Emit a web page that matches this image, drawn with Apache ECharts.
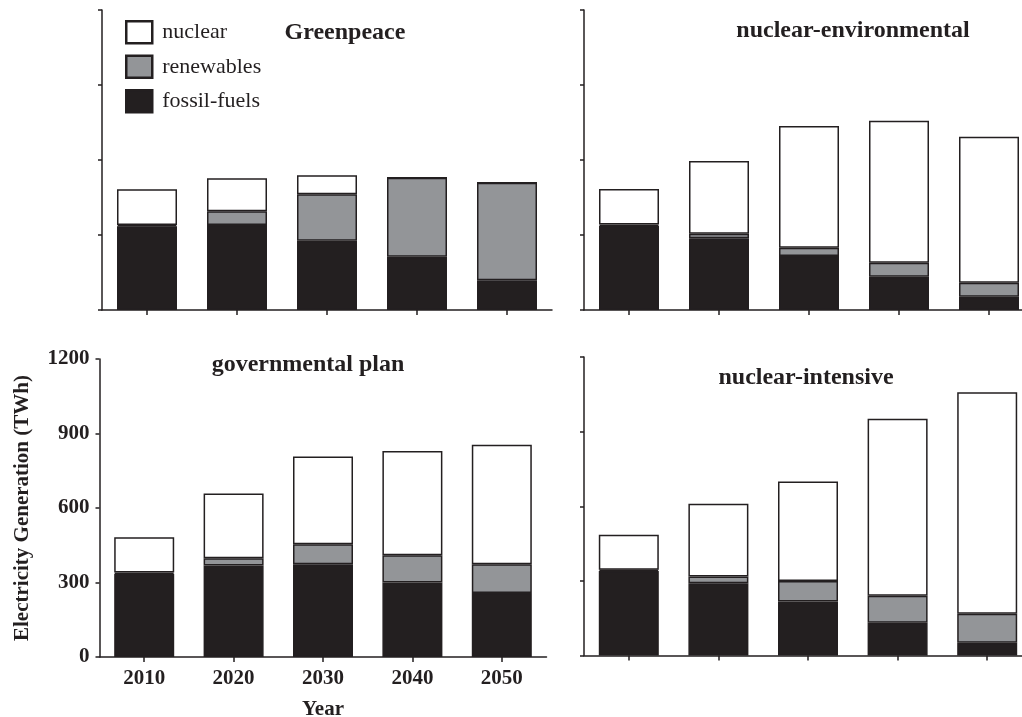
<!DOCTYPE html>
<html>
<head>
<meta charset="utf-8">
<title>Electricity generation scenarios</title>
<script src="https://cdn.jsdelivr.net/npm/echarts@6/dist/echarts.min.js"></script>
<style>
  html, body { margin: 0; padding: 0; background: #ffffff; }
  #chart { width: 1022px; height: 717px; }
</style>
</head>
<body>
<div id="chart"></div>
<script>
// Scenario data, TWh per decade
const years = ['2010', '2020', '2030', '2040', '2050'];
const yTicks = [0, 300, 600, 900, 1200];

const greenpeaceFossil = [335, 340, 277, 213, 119];
const greenpeaceRenew = [5, 55, 186, 316, 390];
const greenpeaceNuclear = [143, 132, 76, 0, 0];

const envFossil = [337, 287, 216, 133, 53];
const envRenew = [5, 18, 33, 56, 56];
const envNuclear = [142, 291, 487, 568, 584];

const govFossil = [335, 368, 373, 300, 258];
const govRenew = [5, 30, 81, 110, 115];
const govNuclear = [142, 260, 353, 420, 482];

const intFossil = [340, 290, 217, 132, 51];
const intRenew = [5, 28, 83, 108, 117];
const intNuclear = [140, 292, 400, 712, 890];

const panelTitles = ['Greenpeace', 'nuclear-environmental', 'governmental plan', 'nuclear-intensive'];

const INK = '#231f20';
const GREY = '#939598';
const FONT = '"Liberation Serif", "Times New Roman", serif';

const panels = [
  { title: panelTitles[0], fossil: greenpeaceFossil, renew: greenpeaceRenew, nuclear: greenpeaceNuclear,
    grid: { left: 102, top: 10, width: 450, height: 300 }, titlePos: { x: 345, y: 21 }, labels: false },
  { title: panelTitles[1], fossil: envFossil, renew: envRenew, nuclear: envNuclear,
    grid: { left: 584, top: 10, width: 450, height: 300 }, titlePos: { x: 853, y: 19 }, labels: false },
  { title: panelTitles[2], fossil: govFossil, renew: govRenew, nuclear: govNuclear,
    grid: { left: 99.5, top: 359, width: 447, height: 298 }, titlePos: { x: 308, y: 353 }, labels: true },
  { title: panelTitles[3], fossil: intFossil, renew: intRenew, nuclear: intNuclear,
    grid: { left: 584, top: 357, width: 448, height: 298.5 }, titlePos: { x: 806, y: 366 }, labels: false }
];

const axisLine = { show: true, lineStyle: { color: INK, width: 1.5 } };
const labelStyle = { color: INK, fontFamily: FONT, fontWeight: 'bold', fontSize: 21 };

const grids = [], xAxes = [], yAxes = [], series = [], titles = [];

panels.forEach((p, i) => {
  grids.push(Object.assign({ containLabel: false, outerBoundsMode: 'none' }, p.grid));
  titles.push({
    text: p.title,
    left: p.titlePos.x,
    top: p.titlePos.y,
    padding: 0,
    textAlign: 'center',
    textStyle: { color: INK, fontFamily: FONT, fontWeight: 'bold', fontSize: 24 }
  });
  xAxes.push({
    type: 'category',
    gridIndex: i,
    data: years,
    axisLine: axisLine,
    axisTick: { show: true, alignWithLabel: true, length: 5, lineStyle: { color: INK, width: 1.5 } },
    axisLabel: Object.assign({ show: p.labels, margin: 11 }, labelStyle),
    name: p.labels ? 'Year' : '',
    nameLocation: 'middle',
    nameGap: 42,
    nameTextStyle: labelStyle,
    splitLine: { show: false }
  });
  yAxes.push({
    type: 'value',
    gridIndex: i,
    min: yTicks[0],
    max: yTicks[yTicks.length - 1],
    interval: yTicks[1] - yTicks[0],
    axisLine: axisLine,
    axisTick: { show: true, length: 4, lineStyle: { color: INK, width: 1.5 } },
    axisLabel: Object.assign({ show: p.labels, margin: 10, formatter: v => String(v) }, labelStyle),
    name: p.labels ? 'Electricity Generation (TWh)' : '',
    nameLocation: 'middle',
    nameGap: 66,
    nameRotate: 90,
    nameTextStyle: labelStyle,
    splitLine: { show: false }
  });
  const parts = [
    { name: 'fossil-fuels', data: p.fossil, color: INK },
    { name: 'renewables', data: p.renew, color: GREY },
    { name: 'nuclear', data: p.nuclear, color: '#ffffff' }
  ];
  parts.forEach(part => {
    series.push({
      type: 'bar',
      name: part.name,
      xAxisIndex: i,
      yAxisIndex: i,
      stack: 'mix' + i,
      barWidth: 60,
      data: part.data,
      animation: false,
      itemStyle: { color: part.color, borderColor: INK, borderWidth: 1.5 }
    });
  });
});

const chart = echarts.init(document.getElementById('chart'), null, { renderer: 'canvas' });
chart.setOption({
  backgroundColor: '#ffffff',
  animation: false,
  title: titles,
  grid: grids,
  xAxis: xAxes,
  yAxis: yAxes,
  legend: {
    orient: 'vertical',
    left: 125,
    top: 20,
    padding: 0,
    itemWidth: 26,
    itemHeight: 22,
    itemGap: 10,
    icon: 'rect',
    selectedMode: false,
    textStyle: { color: INK, fontFamily: FONT, fontSize: 22, lineHeight: 22, padding: [0, 0, 0, 5] },
    data: [
      { name: 'nuclear', itemStyle: { color: '#ffffff', borderColor: INK, borderWidth: 2.5 } },
      { name: 'renewables', itemStyle: { color: GREY, borderColor: INK, borderWidth: 2.5 } },
      { name: 'fossil-fuels', itemStyle: { color: INK, borderColor: INK, borderWidth: 2.5 } }
    ]
  },
  series: series
});
</script>
</body>
</html>
